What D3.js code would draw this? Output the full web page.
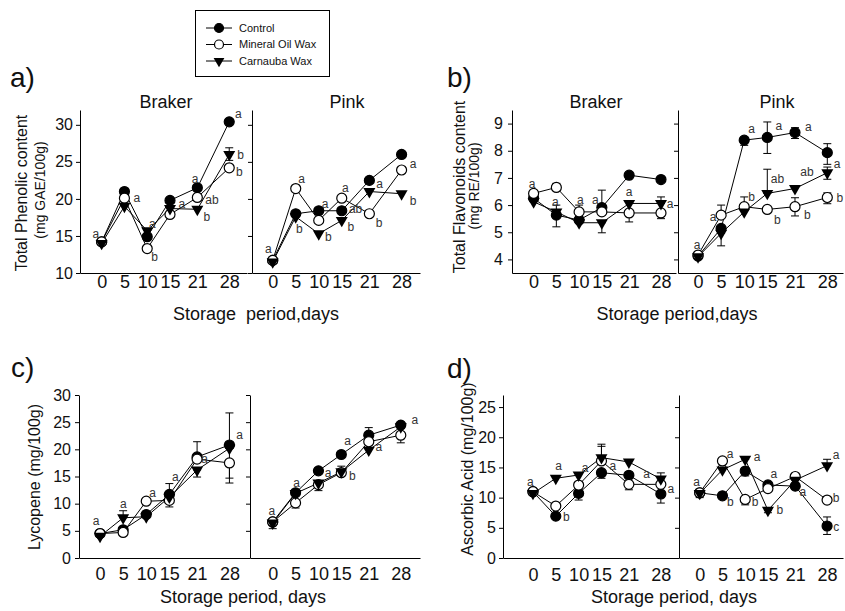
<!DOCTYPE html>
<html>
<head>
<meta charset="utf-8">
<script src="https://cdn.jsdelivr.net/npm/d3@7"></script>
<style>
body { margin: 0; background: #fff; }
text { font-family: "Liberation Sans", Arial, Helvetica, sans-serif; fill: #111; }
</style>
</head>
<body>
<svg id="fig" width="845" height="611"></svg>
<script>
var days = [0, 5, 10, 15, 21, 28];
var seriesNames = ["Control", "Mineral Oil Wax", "Carnauba Wax"];

// each panel: [control, mineral oil wax, carnauba wax]
var phenolicBraker = [
    [14.2, 21.0, 14.9, 19.8, 21.5, 30.4],
    [14.2, 20.1, 13.3, 17.9, 20.2, 24.2],
    [14.0, 19.0, 15.7, 18.7, 18.6, 26.0]
];
var phenolicPink = [
    [11.7, 18.0, 18.4, 18.4, 22.5, 26.0],
    [11.7, 21.4, 17.1, 20.1, 18.0, 23.9],
    [11.5, 17.6, 15.3, 17.1, 21.0, 20.7]
];
var flavBraker = [
    [6.25, 5.63, 5.45, 5.91, 7.1, 6.94],
    [6.43, 6.65, 5.75, 5.75, 5.71, 5.71],
    [6.12, 5.75, 5.35, 5.35, 6.06, 6.06]
];
var flavPink = [
    [4.12, 5.14, 8.39, 8.49, 8.67, 7.93],
    [4.16, 5.63, 5.94, 5.84, 5.94, 6.28],
    [4.1, 4.96, 5.75, 6.43, 6.61, 7.19]
];
var lycBraker = [
    [4.5, 5.2, 8.0, 11.7, 18.6, 20.8],
    [4.5, 4.7, 10.45, 10.6, 18.2, 17.5],
    [4.0, 7.4, 7.6, 11.2, 16.2, 20.2]
];
var lycPink = [
    [6.64, 12.0, 16.04, 19.05, 22.6, 24.46],
    [6.64, 10.14, 13.5, 15.7, 21.4, 22.6],
    [6.45, 11.9, 13.8, 15.86, 19.85, 24.15]
];
var ascBraker = [
    [10.98, 6.93, 10.7, 14.13, 13.7, 10.6],
    [10.98, 8.6, 12.08, 16.08, 12.2, 12.2],
    [10.7, 13.2, 13.75, 16.63, 15.9, 13.1]
];
var ascPink = [
    [10.8, 10.3, 14.4, 12.1, 11.9, 5.3],
    [10.8, 16.08, 9.7, 11.5, 13.5, 9.6],
    [10.7, 14.6, 16.35, 7.9, 12.9, 15.3]
];

// error bars: [series, day, low, high]
var phenolicBrakerErr = [[2, 28, 25.2, 26.9]];
var phenolicPinkErr = [];
var flavBrakerErr = [[0, 5, 5.2, 6.0], [1, 10, 5.75, 6.0], [0, 15, 5.91, 6.55], [2, 15, 4.98, 5.35],
    [1, 21, 5.38, 5.71], [2, 28, 6.06, 6.3], [1, 28, 5.5, 5.71], [1, 5, 6.65, 6.8]];
var flavPinkErr = [[0, 10, 8.2, 8.39], [0, 15, 7.9, 9.06], [0, 21, 8.45, 8.85], [0, 28, 7.5, 8.26],
    [2, 15, 6.43, 7.32], [2, 5, 4.5, 4.96], [1, 5, 5.63, 6.0], [1, 10, 5.94, 6.3],
    [1, 21, 5.6, 6.27], [1, 28, 6.05, 6.45], [2, 28, 6.95, 7.4]];
var lycBrakerErr = [[2, 5, 7.4, 8.7], [0, 15, 11.7, 13.7], [1, 15, 9.4, 10.6], [0, 21, 18.6, 21.4],
    [2, 21, 14.9, 16.2], [0, 28, 20.8, 26.7], [1, 28, 13.8, 17.5], [2, 28, 14.7, 20.2]];
var lycPinkErr = [[2, 0, 5.4, 6.45], [1, 5, 9.2, 10.14], [1, 10, 12.4, 13.5], [2, 15, 15.86, 16.9],
    [0, 21, 22.6, 24.0], [1, 28, 21.2, 22.6]];
var ascBrakerErr = [[1, 15, 16.08, 18.85], [2, 15, 16.63, 18.5], [0, 15, 13.2, 14.13], [0, 10, 9.6, 10.7],
    [1, 21, 11.3, 12.2], [2, 28, 13.1, 14.1], [0, 28, 9.1, 10.6]];
var ascPinkErr = [[0, 0, 10.0, 10.8], [1, 10, 8.8, 9.7], [2, 10, 16.35, 16.8], [2, 15, 7.5, 7.9],
    [0, 28, 3.9, 6.8], [2, 28, 15.3, 16.35], [0, 10, 13.6, 14.4]];

// significance letters: [day, value, text]
var phenolicBrakerLetters = [[-1.3, 15.3, "a"], [7.7, 20.1, "a"], [11.1, 16.65, "a"], [11.6, 12.2, "b"],
    [17.6, 19.4, "a"], [20.5, 22.7, "a"], [24.2, 19.9, "ab"], [23.1, 17.55, "b"],
    [30.0, 31.5, "a"], [30.5, 26.0, "b"], [30.2, 23.6, "b"]];
var phenolicPinkLetters = [[-0.95, 13.3, "a"], [6.3, 22.7, "a"], [5.8, 16.0, "b"], [11.4, 19.35, "a"],
    [12.1, 14.85, "b"], [15.8, 21.5, "a"], [18.0, 18.6, "ab"], [17.0, 16.3, "b"],
    [23.2, 22.0, "a"], [23.1, 16.8, "b"], [30.5, 24.7, "a"], [30.5, 19.8, "b"]];
var flavBrakerLetters = [[-0.35, 6.79, "a"], [4.77, 6.12, "a"], [10.26, 6.2, "a"], [13.56, 6.2, "a"],
    [21.0, 6.49, "a"], [30.0, 6.03, "a"]];
var flavPinkLetters = [[-0.2, 4.53, "a"], [3.26, 5.57, "a"], [11.6, 8.82, "a"], [17.5, 8.91, "a"],
    [23.9, 8.88, "a"], [30.1, 7.53, "a"], [11.6, 6.3, "b"], [17.2, 6.95, "ab"], [23.6, 7.22, "ab"],
    [17.2, 5.45, "b"], [23.7, 5.65, "b"], [30.7, 6.27, "b"]];
var lycBrakerLetters = [[-0.87, 6.76, "a"], [5.06, 10.0, "a"], [11.4, 12.0, "a"], [16.3, 14.9, "a"],
    [22.6, 18.25, "a"], [30.2, 22.6, "a"]];
var lycPinkLetters = [[-0.2, 8.6, "a"], [5.24, 13.8, "a"], [12.1, 15.7, "a"], [16.4, 21.5, "a"],
    [17.4, 15.06, "b"], [23.2, 20.5, "a"], [31.1, 25.4, "a"]];
var ascBrakerLetters = [[-0.6, 12.64, "a"], [5.6, 15.3, "a"], [11.4, 14.97, "a"], [17.5, 15.3, "a"],
    [24.9, 13.9, "a"], [30.2, 11.5, "a"], [7.3, 6.8, "b"]];
var ascPinkLetters = [[-0.7, 12.64, "a"], [6.7, 17.24, "a"], [12.6, 16.8, "a"], [16.3, 14.0, "a"],
    [22.7, 11.0, "a"], [30.0, 17.1, "a"], [6.75, 9.3, "b"], [12.2, 9.3, "b"], [17.6, 8.0, "b"],
    [30.0, 9.9, "b"], [30.0, 5.15, "c"]];

var phenolicTicks = [10, 15, 20, 25, 30];
var flavTicks = [4, 5, 6, 7, 8, 9];
var lycTicks = [0, 5, 10, 15, 20, 25, 30];
var ascTicks = [0, 5, 10, 15, 20, 25];

var svg = d3.select("#fig");

function drawMarker(g, idx, cx, cy, r) {
    if (idx === 2) {
        g.append("path")
            .attr("d", d3.symbol().type(d3.symbolTriangle).size(r * r * 2.5)())
            .attr("transform", "translate(" + cx + "," + cy + ") rotate(180)")
            .attr("fill", "#000");
    } else {
        g.append("circle")
            .attr("cx", cx).attr("cy", cy).attr("r", r)
            .attr("fill", idx === 0 ? "#000" : "#fff")
            .attr("stroke", "#000").attr("stroke-width", 1.2);
    }
}

function drawPlot(p) {
    var x = d3.scaleLinear().domain(p.xdom).range([p.x0, p.x1]);
    var y = d3.scaleLinear().domain(p.ydom).range([p.yb, p.yt]);
    var g = svg.append("g");

    var xa = g.append("g")
        .attr("transform", "translate(0," + p.yb + ")")
        .call(d3.axisBottom(x).tickValues(days).tickSize(0).tickSizeOuter(0).tickPadding(p.pad));
    xa.selectAll("text").attr("font-size", 18).attr("fill", "#111");

    var ya = g.append("g")
        .attr("transform", "translate(" + p.x0 + ",0)")
        .call(d3.axisLeft(y).tickValues(p.ticks).tickSize(4).tickSizeOuter(0).tickPadding(p.ypad)
            .tickFormat(p.labels ? d3.format("d") : ""));
    ya.selectAll("text").attr("font-size", 16).attr("fill", "#111");
    g.selectAll(".domain, .tick line").attr("stroke", "#000").attr("stroke-width", 1);

    var line = d3.line()
        .x(function (v, i) { return x(days[i]); })
        .y(function (v) { return y(v); });

    p.data.forEach(function (s) {
        g.append("path")
            .attr("d", line(s))
            .attr("fill", "none")
            .attr("stroke", "#000")
            .attr("stroke-width", 1);
    });

    p.err.forEach(function (e) {
        var cx = x(e[1]);
        g.append("line").attr("x1", cx).attr("x2", cx)
            .attr("y1", y(e[2])).attr("y2", y(e[3]))
            .attr("stroke", "#000").attr("stroke-width", 1);
        [e[2], e[3]].forEach(function (v) {
            g.append("line").attr("x1", cx - 4).attr("x2", cx + 4)
                .attr("y1", y(v)).attr("y2", y(v))
                .attr("stroke", "#000").attr("stroke-width", 1);
        });
    });

    p.data.forEach(function (s, idx) {
        s.forEach(function (v, i) {
            drawMarker(g, idx, x(days[i]), y(v), 5);
        });
    });

    p.letters.forEach(function (l) {
        g.append("text")
            .attr("x", x(l[0])).attr("y", y(l[1]))
            .attr("dy", "0.35em")
            .attr("text-anchor", "middle")
            .attr("font-size", 12)
            .style("fill", "#333")
            .text(l[2]);
    });
}

// a) total phenolic
drawPlot({x0: 80, x1: 247, xdom: [-4.75, 31.9], yb: 273, yt: 110, ydom: [10, 32], pad: 2, ypad: 3,
    ticks: phenolicTicks, labels: true, data: phenolicBraker, err: phenolicBrakerErr, letters: phenolicBrakerLetters});
drawPlot({x0: 252, x1: 420, xdom: [-4.5, 32], yb: 273, yt: 110, ydom: [10, 32], pad: 2, ypad: 3,
    ticks: phenolicTicks, labels: false, data: phenolicPink, err: phenolicPinkErr, letters: phenolicPinkLetters});
// b) flavonoids
drawPlot({x0: 512, x1: 676, xdom: [-4.75, 31.3], yb: 273, yt: 110, ydom: [3.5, 9.5], pad: 2, ypad: 5,
    ticks: flavTicks, labels: true, data: flavBraker, err: flavBrakerErr, letters: flavBrakerLetters});
drawPlot({x0: 678, x1: 843, xdom: [-4.34, 31.4], yb: 273, yt: 110, ydom: [3.5, 9.5], pad: 2, ypad: 5,
    ticks: flavTicks, labels: false, data: flavPink, err: flavPinkErr, letters: flavPinkLetters});
// c) lycopene
drawPlot({x0: 79, x1: 247, xdom: [-4.55, 31.8], yb: 558, yt: 395, ydom: [0, 30], pad: 9, ypad: 4,
    ticks: lycTicks, labels: true, data: lycBraker, err: lycBrakerErr, letters: lycBrakerLetters});
drawPlot({x0: 250, x1: 420, xdom: [-4.96, 32.2], yb: 558, yt: 395, ydom: [0, 30], pad: 9, ypad: 4,
    ticks: lycTicks, labels: false, data: lycPink, err: lycPinkErr, letters: lycPinkLetters});
// d) ascorbic acid
drawPlot({x0: 503, x1: 675, xdom: [-6.56, 31.1], yb: 558, yt: 395, ydom: [0, 27], pad: 10, ypad: 3,
    ticks: ascTicks, labels: true, data: ascBraker, err: ascBrakerErr, letters: ascBrakerLetters});
drawPlot({x0: 679, x1: 843, xdom: [-4.55, 31.5], yb: 558, yt: 395, ydom: [0, 27], pad: 10, ypad: 3,
    ticks: ascTicks, labels: false, data: ascPink, err: ascPinkErr, letters: ascPinkLetters});

// panel letters, titles, axis titles
function label(x, y, txt, size, rot) {
    var t = svg.append("text")
        .attr("text-anchor", "middle")
        .attr("font-size", size)
        .text(txt);
    if (rot) {
        t.attr("transform", "translate(" + x + "," + y + ") rotate(-90)").attr("dy", "0.35em");
    } else {
        t.attr("x", x).attr("y", y);
    }
    return t;
}

[["a)", 10, 87], ["b)", 447, 87], ["c)", 11, 377], ["d)", 447, 378]].forEach(function (d) {
    svg.append("text").attr("x", d[1]).attr("y", d[2]).attr("font-size", 28).text(d[0]);
});

label(166, 108, "Braker", 18);
label(347, 108, "Pink", 18);
label(596, 108, "Braker", 18);
label(777, 108, "Pink", 18);

label(21, 193, "Total Phenolic content", 16, true);
label(40, 190, "(mg GAE/100g)", 14, true);
label(459, 187, "Total Flavonoids content", 16, true);
label(474, 186, "(mg RE/100g)", 14, true);
label(34, 477, "Lycopene (mg/100g)", 16, true);
label(467, 469, "Ascorbic Acid (mg/100g)", 16, true);

label(256, 320, "Storage\u00a0\u00a0period,days", 18);
label(677, 320, "Storage period,days", 18);
label(243, 603, "Storage period, days", 18);
label(674, 603, "Storage period, days", 18);

// legend
var leg = svg.append("g");
leg.append("rect").attr("x", 195.5).attr("y", 10.5).attr("width", 134).attr("height", 66)
    .attr("fill", "#fff").attr("stroke", "#000").attr("stroke-width", 1);
seriesNames.forEach(function (name, i) {
    var ly = 28 + i * 16.5;
    leg.append("line").attr("x1", 206).attr("x2", 232).attr("y1", ly).attr("y2", ly)
        .attr("stroke", "#000").attr("stroke-width", 1);
    drawMarker(leg, i, 219, ly, 4.5);
    leg.append("text").attr("x", 239).attr("y", ly).attr("dy", "0.35em")
        .attr("font-size", 11).text(name);
});
</script>
</body>
</html>
